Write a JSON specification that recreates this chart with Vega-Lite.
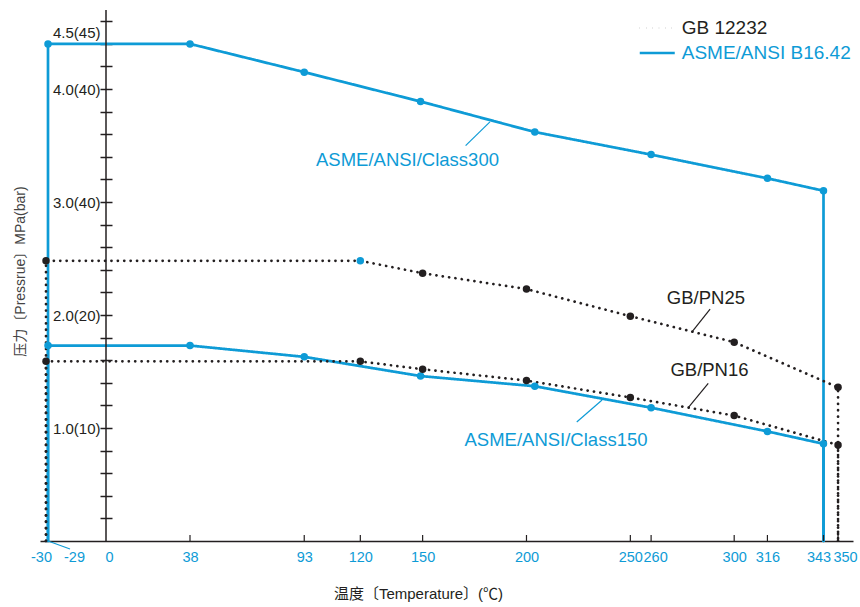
{
  "$schema": "https://vega.github.io/schema/vega-lite/v6.json",
  "width": 813,
  "height": 531,
  "autosize": {"type": "none"},
  "padding": {"left": 40, "top": 10, "right": 7, "bottom": 66},
  "background": "white",
  "config": {"view": {"stroke": null}, "font": "Liberation Sans, Noto Sans CJK SC"},
  "datasets": {
    "lines": [
      {"series": "Class300", "standard": "ASME/ANSI B16.42", "dot": "ASME", "order": 0, "t": -29, "p": 0},
      {"series": "Class300", "standard": "ASME/ANSI B16.42", "dot": "ASME", "order": 1, "t": -29, "p": 4.4},
      {"series": "Class300", "standard": "ASME/ANSI B16.42", "dot": "ASME", "order": 2, "t": 38, "p": 4.4},
      {"series": "Class300", "standard": "ASME/ANSI B16.42", "dot": "ASME", "order": 3, "t": 93, "p": 4.15},
      {"series": "Class300", "standard": "ASME/ANSI B16.42", "dot": "ASME", "order": 4, "t": 149, "p": 3.89},
      {"series": "Class300", "standard": "ASME/ANSI B16.42", "dot": "ASME", "order": 5, "t": 204, "p": 3.62},
      {"series": "Class300", "standard": "ASME/ANSI B16.42", "dot": "ASME", "order": 6, "t": 260, "p": 3.42},
      {"series": "Class300", "standard": "ASME/ANSI B16.42", "dot": "ASME", "order": 7, "t": 316, "p": 3.21},
      {"series": "Class300", "standard": "ASME/ANSI B16.42", "dot": "ASME", "order": 8, "t": 343, "p": 3.1},
      {"series": "Class300", "standard": "ASME/ANSI B16.42", "dot": "ASME", "order": 9, "t": 343, "p": 0},
      {"series": "Class150", "standard": "ASME/ANSI B16.42", "dot": "ASME", "order": 0, "t": -29, "p": 0},
      {"series": "Class150", "standard": "ASME/ANSI B16.42", "dot": "ASME", "order": 1, "t": -29, "p": 1.73},
      {"series": "Class150", "standard": "ASME/ANSI B16.42", "dot": "ASME", "order": 2, "t": 38, "p": 1.73},
      {"series": "Class150", "standard": "ASME/ANSI B16.42", "dot": "ASME", "order": 3, "t": 93, "p": 1.63},
      {"series": "Class150", "standard": "ASME/ANSI B16.42", "dot": "ASME", "order": 4, "t": 149, "p": 1.46},
      {"series": "Class150", "standard": "ASME/ANSI B16.42", "dot": "ASME", "order": 5, "t": 204, "p": 1.37},
      {"series": "Class150", "standard": "ASME/ANSI B16.42", "dot": "ASME", "order": 6, "t": 260, "p": 1.18},
      {"series": "Class150", "standard": "ASME/ANSI B16.42", "dot": "ASME", "order": 7, "t": 316, "p": 0.97},
      {"series": "Class150", "standard": "ASME/ANSI B16.42", "dot": "ASME", "order": 8, "t": 343, "p": 0.86},
      {"series": "Class150", "standard": "ASME/ANSI B16.42", "dot": "ASME", "order": 9, "t": 343, "p": 0},
      {"series": "PN25", "standard": "GB 12232", "dot": "GB", "order": 0, "t": -30, "p": 0},
      {"series": "PN25", "standard": "GB 12232", "dot": "GB", "order": 1, "t": -30, "p": 2.48},
      {"series": "PN25", "standard": "GB 12232", "dot": "ASME", "order": 2, "t": 120, "p": 2.48},
      {"series": "PN25", "standard": "GB 12232", "dot": "GB", "order": 3, "t": 150, "p": 2.37},
      {"series": "PN25", "standard": "GB 12232", "dot": "GB", "order": 4, "t": 200, "p": 2.23},
      {"series": "PN25", "standard": "GB 12232", "dot": "GB", "order": 5, "t": 250, "p": 1.99},
      {"series": "PN25", "standard": "GB 12232", "dot": "GB", "order": 6, "t": 300, "p": 1.76},
      {"series": "PN25", "standard": "GB 12232", "dot": "GB", "order": 7, "t": 350, "p": 1.36},
      {"series": "PN25", "standard": "GB 12232", "dot": "GB", "order": 8, "t": 350, "p": 0},
      {"series": "PN16", "standard": "GB 12232", "dot": "GB", "order": 0, "t": -30, "p": 0},
      {"series": "PN16", "standard": "GB 12232", "dot": "GB", "order": 1, "t": -30, "p": 1.59},
      {"series": "PN16", "standard": "GB 12232", "dot": "GB", "order": 2, "t": 120, "p": 1.59},
      {"series": "PN16", "standard": "GB 12232", "dot": "GB", "order": 3, "t": 150, "p": 1.52},
      {"series": "PN16", "standard": "GB 12232", "dot": "GB", "order": 4, "t": 200, "p": 1.42},
      {"series": "PN16", "standard": "GB 12232", "dot": "GB", "order": 5, "t": 250, "p": 1.27},
      {"series": "PN16", "standard": "GB 12232", "dot": "GB", "order": 6, "t": 300, "p": 1.11},
      {"series": "PN16", "standard": "GB 12232", "dot": "GB", "order": 7, "t": 350, "p": 0.85},
      {"series": "PN16", "standard": "GB 12232", "dot": "GB", "order": 8, "t": 350, "p": 0}
    ],
    "notes": [
      {"label": "ASME/ANSI/Class300", "group": "ASME", "t": 142.7, "p": 3.37},
      {"label": "ASME/ANSI/Class150", "group": "ASME", "t": 214.2, "p": 0.894},
      {"label": "GB/PN25", "group": "GB", "t": 286.4, "p": 2.15},
      {"label": "GB/PN16", "group": "GB", "t": 288.1, "p": 1.513}
    ],
    "leaders": [
      {"group": "ASME", "t": 170.7, "p": 3.50, "t2": 182.4, "p2": 3.71},
      {"group": "ASME", "t": 224.2, "p": 1.053, "t2": 236.4, "p2": 1.248},
      {"group": "GB", "t": 279.5, "p": 1.847, "t2": 288.4, "p2": 2.053},
      {"group": "GB", "t": 277.9, "p": 1.18, "t2": 287.5, "p2": 1.396},
      {"group": "ASME", "t": -29, "p": 0, "t2": -18, "p2": -0.071}
    ],
    "yaxisline": [
      {"t": 0, "p": 0, "p2": 4.7}
    ],
    "xticks": [
      {"t": 38, "p": 0}, {"t": 93, "p": 0}, {"t": 120, "p": 0}, {"t": 150, "p": 0},
      {"t": 200, "p": 0}, {"t": 250, "p": 0}, {"t": 260, "p": 0}, {"t": 300, "p": 0},
      {"t": 316, "p": 0}, {"t": 343, "p": 0}, {"t": 350, "p": 0}
    ]
  },
  "encoding": {
    "x": {
      "field": "t", "type": "quantitative",
      "scale": {"domain": [-33, 0, 38, 357.2], "range": [0, 66, 150, 813], "nice": false, "zero": false},
      "axis": {
        "values": [-30, -29, 0, 38, 93, 120, 150, 200, 250, 260, 300, 316, 343, 350],
        "labelExpr": "'' + datum.value",
        "domain": true, "domainColor": "#231f20", "domainWidth": 1.5,
        "grid": false, "ticks": false,
        "labelPadding": 9, "labelFontSize": 14.5, "labelColor": "#0e9bd6",
        "labelFont": "Liberation Sans",
        "labelFlush": false, "labelOverlap": false,
        "labelOffset": {"condition": [
          {"test": "datum.value === -29", "value": 26},
          {"test": "datum.value === -30", "value": -5},
          {"test": "datum.value === 0", "value": 3},
          {"test": "datum.value === 260", "value": 4},
          {"test": "datum.value === 343", "value": -5},
          {"test": "datum.value === 350", "value": 7}
        ], "value": 0},
        "title": "温度〔Temperature〕(℃)",
        "titleX": 378, "titleY": 52, "titleBaseline": "middle", "titleAlign": "center",
        "titleFontSize": 15, "titleFontWeight": "normal", "titleColor": "#231f20",
        "titleFont": "Liberation Sans, Noto Sans CJK SC"
      }
    },
    "y": {
      "field": "p", "type": "quantitative",
      "scale": {"domain": [0, 4.7], "nice": false, "zero": true},
      "axis": {
        "values": [0.2, 0.4, 0.6, 0.8, 1, 1.2, 1.4, 1.6, 1.8, 2, 2.2, 2.4, 2.6, 2.8, 3, 3.2, 3.4, 3.6, 3.8, 4, 4.2, 4.4, 4.5, 4.6],
        "labelExpr": "datum.value == 4.5 ? '4.5(45)' : datum.value == 4 ? '4.0(40)' : datum.value == 3 ? '3.0(40)' : datum.value == 2 ? '2.0(20)' : datum.value == 1 ? '1.0(10)' : ''",
        "domain": false, "grid": false, "offset": -72,
        "tickSize": 12, "tickWidth": 1.5, "tickColor": "#231f20",
        "tickOpacity": {"condition": {"test": "datum.value == 4.5", "value": 0}, "value": 1},
        "labelPadding": 0, "labelFontSize": 15, "labelColor": "#231f20",
        "labelFont": "Liberation Sans", "labelOverlap": false,
        "title": "压力〔Pressrue〕MPa(bar)",
        "titleX": -92, "titleY": 261, "titleAngle": 270,
        "titleBaseline": "middle", "titleAlign": "center",
        "titleFontSize": 14, "titleFontWeight": "normal", "titleColor": "#444444",
        "titleFont": "Liberation Sans, Noto Sans CJK SC"
      }
    }
  },
  "layer": [
    {
      "data": {"name": "lines"},
      "mark": {"type": "line", "strokeWidth": 2.7, "strokeCap": "round", "strokeJoin": "round"},
      "encoding": {
        "color": {
          "field": "standard", "type": "nominal",
          "scale": {"domain": ["GB 12232", "ASME/ANSI B16.42"], "range": ["#231f20", "#0e9bd6"]},
          "legend": {
            "title": null, "orient": "none", "legendX": 606.75, "legendY": 7.5, "padding": 0,
            "symbolType": "M-2,0H2", "symbolSize": 306.25, "symbolStrokeWidth": 2.7,
            "labelFontSize": 19, "labelFont": "Liberation Sans", "labelOffset": 14,
            "rowPadding": 4, "labelLimit": 0,
            "labelColor": {"expr": "datum.value === 'GB 12232' ? '#231f20' : '#0e9bd6'"}
          }
        },
        "strokeDash": {
          "field": "standard", "type": "nominal",
          "scale": {"domain": ["GB 12232", "ASME/ANSI B16.42"], "range": [[0.1, 6.3], [1, 0]]},
          "legend": {
            "title": null, "orient": "none", "legendX": 606.75, "legendY": 7.5, "padding": 0,
            "symbolType": "M-2,0H2", "symbolSize": 306.25, "symbolStrokeWidth": 2.7,
            "labelFontSize": 19, "labelFont": "Liberation Sans", "labelOffset": 14,
            "rowPadding": 4, "labelLimit": 0,
            "labelColor": {"expr": "datum.value === 'GB 12232' ? '#231f20' : '#0e9bd6'"}
          }
        },
        "detail": {"field": "series", "type": "nominal"},
        "order": {"field": "order", "type": "quantitative"}
      }
    },
    {
      "data": {"name": "yaxisline"},
      "mark": {"type": "rule", "color": "#231f20", "strokeWidth": 1.5},
      "encoding": {"y2": {"field": "p2"}}
    },
    {
      "data": {"name": "xticks"},
      "mark": {"type": "tick", "orient": "vertical", "color": "#231f20", "size": 6, "thickness": 1.2, "yOffset": -3, "opacity": 1}
    },
    {
      "data": {"name": "lines"},
      "transform": [{"filter": "datum.p > 0"}],
      "mark": {"type": "circle", "opacity": 1, "size": 56},
      "encoding": {
        "fill": {"field": "dot", "type": "nominal", "scale": {"domain": ["GB", "ASME"], "range": ["#231f20", "#0e9bd6"]}, "legend": null}
      }
    },
    {
      "data": {"name": "leaders"},
      "transform": [{"filter": "datum.group == 'ASME'"}],
      "mark": {"type": "rule", "color": "#0e9bd6", "strokeWidth": 1.2},
      "encoding": {"x2": {"field": "t2"}, "y2": {"field": "p2"}}
    },
    {
      "data": {"name": "leaders"},
      "transform": [{"filter": "datum.group == 'GB'"}],
      "mark": {"type": "rule", "color": "#231f20", "strokeWidth": 1.2},
      "encoding": {"x2": {"field": "t2"}, "y2": {"field": "p2"}}
    },
    {
      "data": {"name": "notes"},
      "transform": [{"filter": "datum.group == 'ASME'"}],
      "mark": {"type": "text", "color": "#0e9bd6", "fontSize": 18.5, "font": "Liberation Sans", "align": "center", "baseline": "middle"},
      "encoding": {"text": {"field": "label"}}
    },
    {
      "data": {"name": "notes"},
      "transform": [{"filter": "datum.group == 'GB'"}],
      "mark": {"type": "text", "color": "#231f20", "fontSize": 18.5, "font": "Liberation Sans", "align": "center", "baseline": "middle"},
      "encoding": {"text": {"field": "label"}}
    }
  ]
}
